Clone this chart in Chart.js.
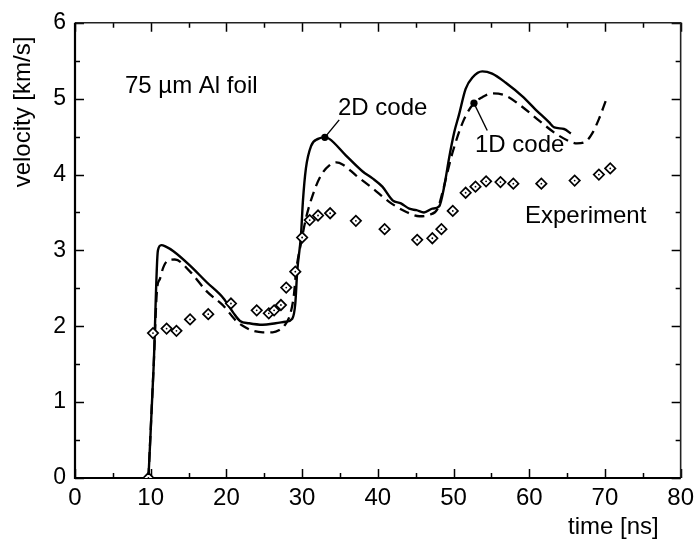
<!DOCTYPE html>
<html>
<head>
<meta charset="utf-8">
<title>Al foil velocity</title>
<script src="https://cdn.jsdelivr.net/npm/chart.js@4/dist/chart.umd.min.js"></script>
<style>
  html, body { margin: 0; padding: 0; background: #fff; }
  #wrap { width: 700px; height: 539px; }
</style>
</head>
<body>
<div id="wrap"><canvas id="c" width="700" height="539"></canvas></div>
<script>
// time [ns] / velocity [km/s] samples
const code2D = [
  [9.7,0],[10.4,1.5],[10.95,3.0],[11.4,3.07],[12.0,3.05],[13.0,2.99],[15.2,2.8],
  [17.4,2.58],[19.6,2.37],[20.9,2.18],[21.8,2.07],[23.0,2.04],[24.8,2.02],[26.5,2.04],
  [27.8,2.06],[28.7,2.1],[29.1,2.3],[29.35,2.72],[29.85,3.2],[30.1,3.64],[30.5,4.08],
  [31.2,4.38],[32.1,4.47],[33.0,4.49],[33.6,4.47],[35.8,4.25],[38.0,4.04],[39.3,3.95],
  [40.6,3.84],[41.95,3.66],[43.05,3.62],[44.15,3.55],[45.1,3.53],[46.1,3.5],[47.2,3.55],
  [48.1,3.58],[48.8,3.86],[49.4,4.21],[50.1,4.56],[50.7,4.78],[51.6,5.13],[52.5,5.28],
  [53.8,5.36],[55.1,5.33],[56.9,5.21],[59.1,5.03],[60.8,4.86],[62.6,4.69],[63.3,4.62],
  [64.6,4.6],[65.5,4.54]
];
const code1D = [
  [9.7,0],[10.4,1.5],[10.85,2.5],[11.2,2.62],[11.64,2.77],[12.3,2.87],[13.2,2.88],
  [15.2,2.72],[17.4,2.46],[19.6,2.27],[21.3,2.07],[22.6,1.98],[23.5,1.94],[24.8,1.92],
  [26.1,1.92],[27.0,1.95],[27.6,2.0],[28.4,2.15],[28.9,2.4],[29.2,2.72],[29.9,3.12],
  [30.5,3.42],[31.4,3.73],[32.5,3.99],[33.6,4.12],[34.5,4.16],[35.4,4.13],[37.1,3.99],
  [39.3,3.82],[41.5,3.64],[43.7,3.51],[45.5,3.45],[46.8,3.47],[47.9,3.55],[48.5,3.75],
  [49.0,3.95],[49.9,4.3],[51.4,4.73],[52.7,4.94],[53.8,5.02],[55.1,5.07],[56.9,5.04],
  [59.1,4.89],[61.3,4.71],[63.5,4.54],[65.5,4.43],[66.3,4.41],[67.4,4.43],[68.3,4.54],
  [69.2,4.73],[70.1,4.97]
];
const experiment = [
  [9.7,0],[10.3,1.91],[12.1,1.97],[13.4,1.94],[15.2,2.09],[17.6,2.16],[20.6,2.3],
  [24.0,2.21],[25.6,2.17],[26.3,2.21],[27.2,2.28],[27.9,2.51],[29.1,2.72],[30.0,3.17],
  [31.0,3.4],[32.1,3.46],[33.7,3.49],[37.1,3.39],[40.9,3.28],[45.2,3.14],[47.2,3.16],
  [48.4,3.28],[49.9,3.52],[51.6,3.76],[52.9,3.84],[54.3,3.91],[56.2,3.9],[57.9,3.88],
  [61.6,3.88],[66.0,3.92],[69.2,4.0],[70.7,4.08]
];
// label pointers: [marked point on curve, end of leader line]
const pointer2D = [[33.0,4.49],[34.9,4.72]];
const pointer1D = [[52.7,4.94],[54.45,4.58]];

const xTicks = [0,10,20,30,40,50,60,70,80];
const yTicks = [0,1,2,3,4,5,6];

const toXY = arr => arr.map(([x, y]) => ({x, y}));
const FONT = '"Liberation Sans", Arial, Helvetica, sans-serif';
Chart.defaults.font.family = FONT;
Chart.defaults.color = '#000';

// frame, inward ticks and text labels
const decor = {
  id: 'decor',
  beforeDatasetsDraw(chart) {
    const {ctx, chartArea: a, scales: {x, y}} = chart;
    ctx.save();
    ctx.strokeStyle = '#000';
    ctx.lineWidth = 1.5;
    for (let v = 0; v <= 80; v += 5) {
      const px = Math.round(x.getPixelForValue(v)) + 0.5;
      const len = v % 10 === 0 ? 9 : 5;
      ctx.beginPath();
      ctx.moveTo(px, a.bottom); ctx.lineTo(px, a.bottom - len);
      ctx.moveTo(px, a.top); ctx.lineTo(px, a.top + len);
      ctx.stroke();
    }
    for (let v = 0; v <= 6; v += 0.5) {
      const py = Math.round(y.getPixelForValue(v)) + 0.5;
      const len = v % 1 === 0 ? 9 : 5;
      ctx.beginPath();
      ctx.moveTo(a.left, py); ctx.lineTo(a.left + len, py);
      ctx.moveTo(a.right, py); ctx.lineTo(a.right - len, py);
      ctx.stroke();
    }
    // top and right edges
    ctx.strokeStyle = '#222';
    ctx.lineWidth = 1.6;
    ctx.beginPath();
    ctx.moveTo(a.left, a.top); ctx.lineTo(a.right, a.top); ctx.lineTo(a.right, a.bottom);
    ctx.stroke();
    // bottom and left edges
    ctx.strokeStyle = '#000';
    ctx.lineWidth = 2.2;
    ctx.beginPath();
    ctx.moveTo(a.left, a.top); ctx.lineTo(a.left, a.bottom); ctx.lineTo(a.right, a.bottom);
    ctx.stroke();
    ctx.restore();
  },
  afterDraw(chart) {
    const ctx = chart.ctx;
    ctx.save();
    ctx.fillStyle = '#000';
    ctx.font = '24px ' + FONT;
    ctx.textBaseline = 'alphabetic';
    ctx.textAlign = 'left';
    ctx.fillText('75 \u00b5m Al foil', 125, 93);
    ctx.fillText('2D code', 338, 115);
    ctx.fillText('1D code', 475, 152);
    ctx.fillText('Experiment', 525, 223);
    ctx.fillText('time [ns]', 568, 534);
    ctx.translate(30, 112);
    ctx.rotate(-Math.PI / 2);
    ctx.textAlign = 'center';
    ctx.fillText('velocity [km/s]', 0, 0);
    ctx.restore();
  }
};

new Chart(document.getElementById('c'), {
  type: 'scatter',
  data: {
    datasets: [
      {
        label: '2D code',
        data: toXY(code2D),
        showLine: true,
        borderColor: '#000',
        borderWidth: 2.4,
        pointRadius: 0,
        cubicInterpolationMode: 'monotone',
        order: 2
      },
      {
        label: '1D code',
        data: toXY(code1D),
        showLine: true,
        borderColor: '#000',
        borderWidth: 2.3,
        borderDash: [10, 6],
        pointRadius: 0,
        cubicInterpolationMode: 'monotone',
        order: 3
      },
      {
        label: 'Experiment',
        data: toXY(experiment),
        showLine: false,
        pointStyle: 'rectRot',
        pointRadius: 5.2,
        pointBorderWidth: 1.7,
        pointBorderColor: '#000',
        pointBackgroundColor: '#fff',
        order: 1
      },
      {
        label: 'Experiment centres',
        data: toXY(experiment),
        showLine: false,
        pointStyle: 'circle',
        pointRadius: 0.9,
        pointBorderWidth: 0,
        pointBackgroundColor: '#000',
        order: 0
      },
      {
        label: '2D pointer',
        data: toXY(pointer2D),
        showLine: true,
        borderColor: '#000',
        borderWidth: 1.4,
        pointRadius: [3.6, 0],
        pointBorderWidth: 0,
        pointBackgroundColor: '#000',
        order: 0
      },
      {
        label: '1D pointer',
        data: toXY(pointer1D),
        showLine: true,
        borderColor: '#000',
        borderWidth: 1.4,
        pointRadius: [3.6, 0],
        pointBorderWidth: 0,
        pointBackgroundColor: '#000',
        order: 0
      }
    ]
  },
  options: {
    responsive: false,
    animation: false,
    events: [],
    layout: { padding: { top: 20, right: 18, left: 0, bottom: 0 } },
    plugins: { legend: { display: false }, tooltip: { enabled: false } },
    scales: {
      x: {
        type: 'linear',
        min: 0, max: 80,
        afterBuildTicks: s => { s.ticks = xTicks.map(v => ({value: v})); },
        afterFit: s => { s.height = 61; },
        grid: { display: false, drawTicks: false },
        border: { display: false },
        ticks: { font: { size: 24 }, padding: 6, maxRotation: 0, color: '#000' }
      },
      y: {
        type: 'linear',
        min: 0, max: 6,
        afterBuildTicks: s => { s.ticks = yTicks.map(v => ({value: v})); },
        afterFit: s => { s.width = 75; },
        grid: { display: false, drawTicks: false },
        border: { display: false },
        ticks: { font: { size: 23 }, padding: 9, color: '#000' }
      }
    }
  },
  plugins: [decor]
});
</script>
</body>
</html>
